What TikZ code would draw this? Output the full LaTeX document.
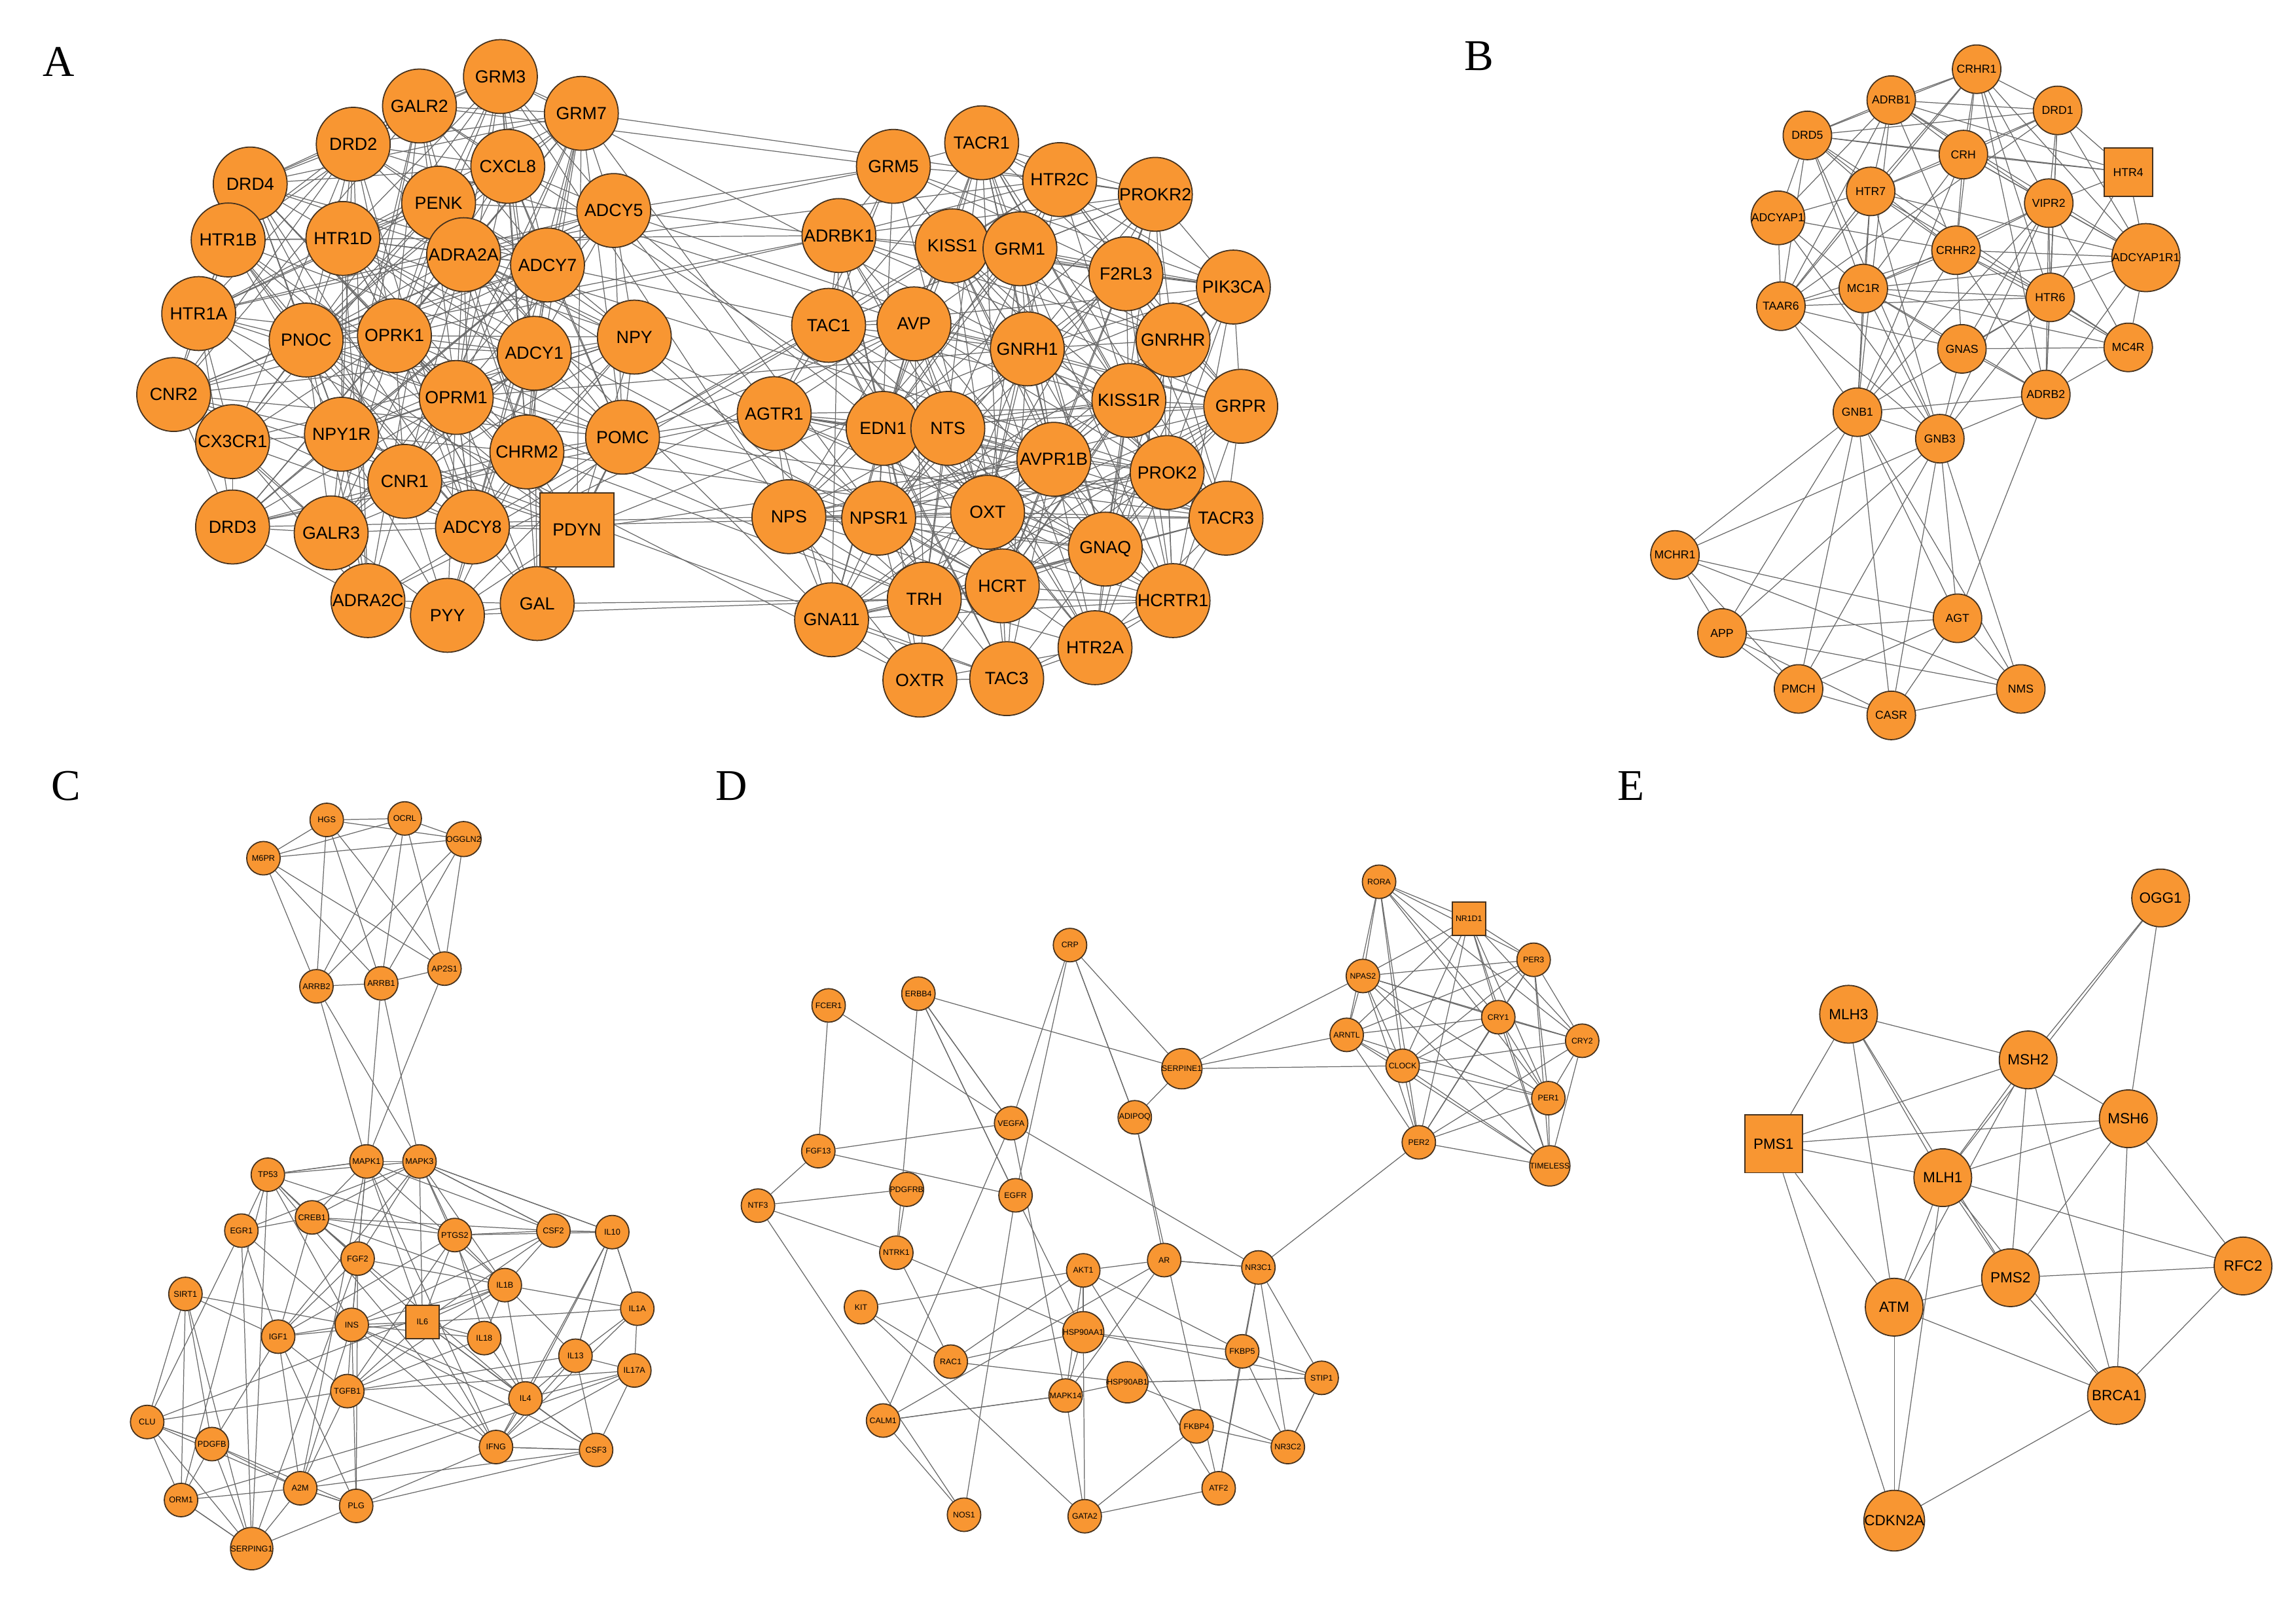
\documentclass[tikz,border=0pt]{standalone}
\usepackage{fontspec}
\setmainfont{Liberation Sans}
\newfontfamily\panelfont{Liberation Serif}
\usetikzlibrary{backgrounds}
\definecolor{nodeor}{RGB}{248,150,50}
\definecolor{edgegr}{RGB}{105,105,105}
\definecolor{nodebd}{RGB}{70,50,30}
\tikzset{
 base/.style={fill=nodeor,draw=nodebd,line width=0.5pt,inner sep=0pt,text=black},
 Anode/.style={base,minimum size=32pt,font=\fontsize{7.6}{8}\selectfont},
 Bnode/.style={base,minimum size=21pt,font=\fontsize{5}{6}\selectfont},
 Cnode/.style={base,minimum size=14.5pt,font=\fontsize{3.6}{4}\selectfont},
 Dnode/.style={base,minimum size=14.5pt,font=\fontsize{3.5}{4}\selectfont},
 Enode/.style={base,minimum size=25pt,font=\fontsize{6.4}{7}\selectfont},
 edge/.style={draw=edgegr,line width=0.35pt},
 plabel/.style={font=\panelfont\fontsize{19}{20}\selectfont}
}
\newcommand\placenodes[3]{\foreach \n/\x/\y/\s in #1 {\node[#3,shape=\s] (#2\n) at (\x,\y) {\n};}}
\newcommand\mynet[4]{%
 \foreach \na/\xa/\ya/\sa [count=\i] in #1 {
  \foreach \nb/\xb/\yb/\sb [count=\j] in #1 {
   \ifnum\j>\i
    \pgfmathsetmacro\pp{#3*exp(-veclen(\xa-\xb,\ya-\yb)/#4)}
    \pgfmathsetmacro\rr{rnd}
    \ifdim\rr pt<\pp pt\relax \draw[edge] (#2\na) -- (#2\nb);\fi
   \fi}}}
\newcommand\crossnet[5]{%
 \foreach \na/\xa/\ya/\sa in #1 {
  \foreach \nb/\xb/\yb/\sb in #2 {
    \pgfmathsetmacro\pp{#4*exp(-veclen(\xa-\xb,\ya-\yb)/#5)}
    \pgfmathsetmacro\rr{rnd}
    \ifdim\rr pt<\pp pt\relax \draw[edge] (#3\na) -- (#3\nb);\fi
  }}}
\newcommand\links[2]{\foreach \u/\v in {#2}{\draw[edge] (#1\u) -- (#1\v);}}
\def\LA{DRD4/170/125/circle,DRD2/240/98/circle,GALR2/285/72/circle,GRM3/340/52/circle,GRM7/395/77/circle,CXCL8/345/113/circle,PENK/298/138/circle,ADCY5/417/143/circle,HTR1B/155/163/circle,HTR1D/233/162/circle,ADRA2A/315/173/circle,ADCY7/372/180/circle,HTR1A/135/213/circle,PNOC/208/231/circle,OPRK1/268/228/circle,ADCY1/363/240/circle,NPY/431/229/circle,CNR2/118/268/circle,NPY1R/232/295/circle,OPRM1/310/270/circle,CX3CR1/158/300/circle,CHRM2/358/307/circle,POMC/423/297/circle,CNR1/275/327/circle,DRD3/158/358/circle,GALR3/225/362/circle,ADCY8/321/358/circle,PDYN/392/360/rectangle,ADRA2C/250/408/circle,PYY/304/418/circle,GAL/365/410/circle}
\def\RA{GRM5/607/113/circle,TACR1/667/97/circle,HTR2C/720/122/circle,PROKR2/785/132/circle,ADRBK1/570/160/circle,KISS1/647/167/circle,GRM1/693/169/circle,F2RL3/765/186/circle,PIK3CA/838/195/circle,TAC1/563/221/circle,AVP/621/220/circle,GNRH1/698/237/circle,GNRHR/797/231/circle,AGTR1/526/281/circle,EDN1/600/291/circle,NTS/644/291/circle,KISS1R/767/272/circle,GRPR/843/276/circle,AVPR1B/716/312/circle,PROK2/793/321/circle,NPS/536/351/circle,NPSR1/597/352/circle,OXT/671/348/circle,TACR3/833/352/circle,GNAQ/751/373/circle,TRH/628/407/circle,HCRT/681/398/circle,HCRTR1/797/408/circle,GNA11/565/421/circle,HTR2A/744/440/circle,OXTR/625/462/circle,TAC3/684/461/circle}
\def\LBt{CRHR1/1343/47/circle,ADRB1/1285/68/circle,DRD1/1398/75/circle,DRD5/1228/92/circle,CRH/1334/105/circle,HTR4/1446/117/rectangle,HTR7/1271/130/circle,VIPR2/1392/138/circle,ADCYAP1/1208/148/circle,CRHR2/1329/170/circle,ADCYAP1R1/1458/175/circle,MC1R/1266/196/circle,HTR6/1393/202/circle,TAAR6/1210/208/circle,GNAS/1333/237/circle,MC4R/1446/236/circle,GNB1/1262/280/circle,ADRB2/1390/268/circle,GNB3/1318/298/circle}
\def\LBb{MCHR1/1138/377/circle,AGT/1330/420/circle,APP/1170/430/circle,NMS/1373/468/circle,PMCH/1222/468/circle,CASR/1285/486/circle}
\def\LCt{M6PR/179/583/circle,HGS/222/557/circle,OCRL/275/556/circle,OGGLN2/315/570/circle,ARRB2/215/670/circle,ARRB1/259/668/circle,AP2S1/302/658/circle}
\def\LC{MAPK1/249/789/circle,MAPK3/285/789/circle,TP53/182/798/circle,EGR1/164/836/circle,CREB1/212/827/circle,FGF2/243/855/circle,PTGS2/309/839/circle,CSF2/376/836/circle,IL10/416/837/circle,IL1B/343/873/circle,SIRT1/126/879/circle,IL1A/433/889/circle,IGF1/189/908/circle,INS/239/900/circle,IL6/287/898/rectangle,IL18/329/909/circle,IL13/391/921/circle,IL17A/431/931/circle,TGFB1/236/945/circle,IL4/357/950/circle,CLU/100/966/circle,PDGFB/144/981/circle,IFNG/337/983/circle,CSF3/405/985/circle,A2M/204/1011/circle,ORM1/123/1019/circle,PLG/242/1023/circle,SERPING1/171/1052/circle}
\def\LD{CRP/727/642/circle,ERBB4/624/675/circle,FCER1/563/683/circle,SERPINE1/803/726/circle,VEGFA/687/763/circle,ADIPOQ/771/759/circle,FGF13/556/782/circle,PDGFRB/616/808/circle,EGFR/690/812/circle,NTF3/515/819/circle,NTRK1/609/851/circle,AKT1/736/863/circle,AR/791/856/circle,NR3C1/855/861/circle,KIT/585/888/circle,HSP90AA1/736/905/circle,FKBP5/844/918/circle,RAC1/646/925/circle,STIP1/898/936/circle,HSP90AB1/766/939/circle,MAPK14/724/948/circle,CALM1/600/965/circle,FKBP4/813/969/circle,NR3C2/875/983/circle,ATF2/828/1011/circle,NOS1/655/1029/circle,GATA2/737/1030/circle}
\def\LDc{RORA/937/599/circle,NR1D1/998/624/rectangle,PER3/1042/652/circle,NPAS2/926/663/circle,CRY1/1018/691/circle,ARNTL/915/703/circle,CRY2/1075/707/circle,CLOCK/953/724/circle,PER1/1052/746/circle,PER2/964/776/circle,TIMELESS/1053/792/circle}
\def\LE{OGG1/1468/610/circle,MLH3/1256/689/circle,MSH2/1378/720/circle,PMS1/1205/777/rectangle,MSH6/1446/760/circle,MLH1/1320/800/circle,PMS2/1366/868/circle,RFC2/1524/860/circle,ATM/1287/888/circle,BRCA1/1438/948/circle,CDKN2A/1287/1033/circle}
\begin{document}
\begin{tikzpicture}[x=0.6375pt,y=-0.6375pt]
\useasboundingbox (0,0) rectangle (1560,1094);
\node[plabel] (labA) at (40,42) {A};
\node[plabel] (labB) at (1005,38) {B};
\node[plabel] (labC) at (45,534) {C};
\node[plabel] (labD) at (497,534) {D};
\node[plabel] (labE) at (1108,534) {E};
\placenodes{\LA}{a}{Anode}
\placenodes{\RA}{a}{Anode}
\placenodes{\LBt}{b}{Bnode}
\placenodes{\LBb}{b}{Bnode}
\placenodes{\LCt}{c}{Cnode}
\placenodes{\LC}{c}{Cnode}
\placenodes{\LD}{d}{Dnode}
\placenodes{\LDc}{d}{Dnode}
\placenodes{\LE}{e}{Enode}
\begin{pgfonlayer}{background}
\pgfmathsetseed{4242}
\mynet{\LA}{a}{1.6}{160}
\mynet{\RA}{a}{1.6}{160}
\crossnet{\LA}{\RA}{a}{1.5}{100}
\mynet{\LBt}{b}{2.0}{110}
\links{b}{MCHR1/APP,MCHR1/PMCH,MCHR1/AGT,MCHR1/NMS,APP/PMCH,APP/CASR,APP/AGT,PMCH/CASR,PMCH/AGT,CASR/NMS,CASR/AGT,AGT/NMS,APP/NMS,GNB1/MCHR1,GNB1/AGT,GNB1/APP,GNB1/PMCH,GNB1/CASR,GNB3/MCHR1,GNB3/AGT,GNB3/NMS,GNB3/CASR,GNB3/PMCH,ADRB2/AGT,GNB3/APP,GNB1/NMS}
\links{c}{M6PR/HGS,M6PR/OCRL,M6PR/OGGLN2,HGS/OCRL,HGS/OGGLN2,OCRL/OGGLN2,M6PR/ARRB2,M6PR/ARRB1,M6PR/AP2S1,HGS/ARRB2,HGS/ARRB1,HGS/AP2S1,OCRL/ARRB2,OCRL/ARRB1,OCRL/AP2S1,OGGLN2/ARRB2,OGGLN2/ARRB1,OGGLN2/AP2S1,ARRB2/ARRB1,ARRB1/AP2S1,ARRB2/MAPK1,ARRB2/MAPK3,ARRB1/MAPK1,ARRB1/MAPK3,AP2S1/MAPK1,MAPK1/MAPK3,TP53/MAPK1,CSF2/IL10,MAPK3/CSF2,MAPK3/IL10,IL10/IL1A,IL10/IL13,IFNG/CSF3,PLG/A2M,CLU/PDGFB,ORM1/SERPING1}
\mynet{\LC}{c}{1.7}{90}
\mynet{\LD}{d}{1.1}{75}
\links{d}{CRP/VEGFA,CRP/SERPINE1,CRP/ADIPOQ,NTF3/PDGFRB,NTF3/NTRK1,FCER1/FGF13,FCER1/VEGFA,ERBB4/VEGFA,ERBB4/EGFR,SERPINE1/NPAS2,SERPINE1/ARNTL,SERPINE1/CLOCK,PER2/NR3C1,FGF13/VEGFA,FGF13/EGFR,KIT/AKT1,CALM1/MAPK14,NOS1/EGFR,RAC1/AKT1,GATA2/MAPK14,GATA2/HSP90AA1,GATA2/ATF2,GATA2/FKBP4,NR3C2/FKBP5,NR3C2/STIP1,NR3C2/FKBP4,NR3C2/NR3C1,HSP90AA1/FKBP5,HSP90AA1/STIP1,HSP90AB1/STIP1,AKT1/AR,AR/NR3C1}
\mynet{\LDc}{d}{2.4}{160}
\links{e}{OGG1/MSH2,OGG1/MSH6,OGG1/MLH1,MLH3/MSH2,MLH3/PMS1,MLH3/MLH1,MLH3/ATM,MLH3/PMS2,MSH2/MSH6,MSH2/MLH1,MSH2/PMS2,MSH2/PMS1,MSH2/ATM,MSH6/MLH1,MSH6/PMS2,MSH6/RFC2,MSH6/BRCA1,MSH6/PMS1,PMS1/MLH1,PMS1/ATM,PMS1/CDKN2A,MLH1/PMS2,MLH1/ATM,MLH1/BRCA1,MLH1/RFC2,MLH1/CDKN2A,PMS2/ATM,PMS2/RFC2,PMS2/BRCA1,ATM/BRCA1,ATM/CDKN2A,BRCA1/CDKN2A,BRCA1/RFC2,MSH2/BRCA1}
\end{pgfonlayer}
\end{tikzpicture}
\end{document}
